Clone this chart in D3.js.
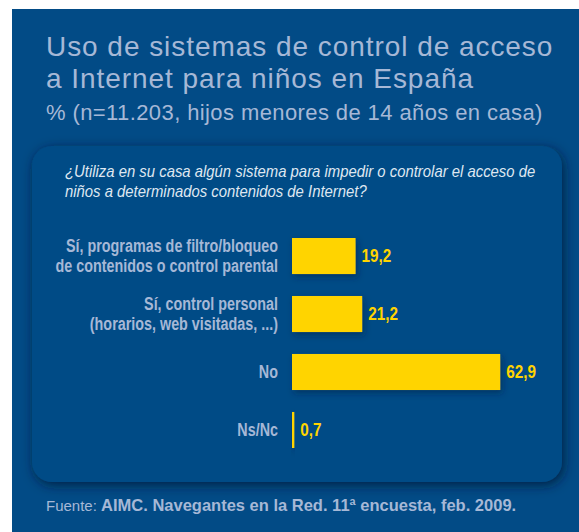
<!DOCTYPE html>
<html>
<head>
<meta charset="utf-8">
<script src="https://cdn.jsdelivr.net/npm/d3@7"></script>
<style>
    body { margin: 0; background: #ffffff; }
    svg { display: block; }
</style>
</head>
<body>
<div id="chart"></div>
<script>
// Chart data
const categories = ["filtro", "personal", "no", "nsnc"];
const categoryLabels = [
    ["Sí, programas de filtro/bloqueo", "de contenidos o control parental"],
    ["Sí, control personal", "(horarios, web visitadas, ...)"],
    ["No"],
    ["Ns/Nc"]
];
const values = [19.2, 21.2, 62.9, 0.7];
const valueLabels = ["19,2", "21,2", "62,9", "0,7"];

const titleLines = ["Uso de sistemas de control de acceso", "a Internet para niños en España"];
const subtitle = "% (n=11.203, hijos menores de 14 años en casa)";
const questionLines = [
    "¿Utiliza en su casa algún sistema para impedir o controlar el acceso de",
    "niños a determinados contenidos de Internet?"
];

const width = 579;
const height = 532;
const blue = "#024b86";
const paleText = "#a6b8d6";
const yellow = "#ffd400";
const sansFont = "'Liberation Sans', Arial, sans-serif";

const svg = d3.select("#chart")
    .append("svg")
    .attr("width", width)
    .attr("height", height);

// Shadow filters
const defs = svg.append("defs");
const boxShadow = defs.append("filter")
    .attr("id", "boxShadow")
    .attr("x", "-10%").attr("y", "-10%")
    .attr("width", "120%").attr("height", "120%");
boxShadow.append("feDropShadow")
    .attr("dx", 2).attr("dy", 3)
    .attr("stdDeviation", 6)
    .attr("flood-color", "#001a36")
    .attr("flood-opacity", 0.8);

const barShadow = defs.append("filter")
    .attr("id", "barShadow")
    .attr("x", "-20%").attr("y", "-30%")
    .attr("width", "140%").attr("height", "160%");
barShadow.append("feDropShadow")
    .attr("dx", 2).attr("dy", 3)
    .attr("stdDeviation", 3)
    .attr("flood-color", "#00203f")
    .attr("flood-opacity", 0.5);

// Blue panel
svg.append("rect")
    .attr("x", 12)
    .attr("y", 9)
    .attr("width", width - 12)
    .attr("height", height - 9)
    .attr("fill", blue);

// Title
svg.append("g")
    .selectAll("text")
    .data(titleLines)
    .join("text")
    .attr("x", 46)
    .attr("y", (d, i) => 56 + i * 32)
    .style("font-family", sansFont)
    .style("font-size", "28px")
    .style("letter-spacing", "0.95px")
    .style("fill", paleText)
    .text(d => d);

svg.append("text")
    .attr("x", 46)
    .attr("y", 120)
    .style("font-family", sansFont)
    .style("font-size", "22px")
    .style("letter-spacing", "0.4px")
    .style("fill", paleText)
    .text(subtitle);

// Inner box
svg.append("rect")
    .attr("x", 32)
    .attr("y", 146)
    .attr("width", 530)
    .attr("height", 336)
    .attr("rx", 20)
    .attr("fill", blue)
    .attr("filter", "url(#boxShadow)");

// Question (condensed by a horizontal squeeze)
svg.append("g")
    .selectAll("text")
    .data(questionLines)
    .join("text")
    .attr("transform", (d, i) => `translate(65, ${177 + i * 20}) scale(0.93, 1)`)
    .style("font-family", sansFont)
    .style("font-style", "italic")
    .style("font-size", "16px")
    .style("fill", "#dfe7f1")
    .text(d => d);

// Scales
const xScale = d3.scaleLinear()
    .domain([0, 100])
    .range([292, 292 + 331]);

const yScale = d3.scaleBand()
    .domain(categories)
    .range([238, 448])
    .paddingInner(0.379)
    .paddingOuter(0);

// Bars
svg.append("g")
    .selectAll("rect")
    .data(values)
    .join("rect")
    .attr("x", xScale(0))
    .attr("y", (d, i) => yScale(categories[i]))
    .attr("width", d => xScale(d) - xScale(0))
    .attr("height", yScale.bandwidth())
    .attr("fill", yellow)
    .attr("filter", "url(#barShadow)");

// Value labels
svg.append("g")
    .selectAll("text")
    .data(values)
    .join("text")
    .attr("transform", (d, i) =>
        `translate(${xScale(d) + 6}, ${yScale(categories[i]) + yScale.bandwidth() / 2}) scale(0.85, 1)`)
    .attr("dy", "0.36em")
    .style("font-family", sansFont)
    .style("font-weight", "bold")
    .style("font-size", "18px")
    .style("fill", yellow)
    .text((d, i) => valueLabels[i]);

// Category labels
const labelGroups = svg.append("g")
    .selectAll("text")
    .data(categoryLabels)
    .join("text")
    .attr("text-anchor", "end")
    .attr("transform", (d, i) =>
        `translate(278, ${yScale(categories[i]) + yScale.bandwidth() / 2}) scale(0.82, 1)`)
    .style("font-family", sansFont)
    .style("font-weight", "bold")
    .style("font-size", "17.5px")
    .style("fill", paleText);

labelGroups.selectAll("tspan")
    .data(d => d.map((line, j) => ({ line, j, n: d.length })))
    .join("tspan")
    .attr("x", 0)
    .attr("dy", t => t.j === 0 ? (0.36 - (t.n - 1) * 0.57) + "em" : "1.14em")
    .text(t => t.line);

// Source
const source = svg.append("text")
    .attr("x", 46)
    .attr("y", 511)
    .style("font-family", sansFont)
    .style("font-size", "15px")
    .style("fill", paleText);
source.append("tspan")
    .text("Fuente: ");
source.append("tspan")
    .style("font-weight", "bold")
    .style("font-size", "16.5px")
    .text("AIMC. Navegantes en la Red. 11ª encuesta, feb. 2009.");
</script>
</body>
</html>
